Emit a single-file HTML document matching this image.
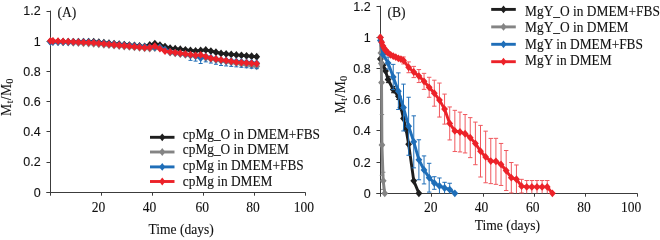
<!DOCTYPE html>
<html><head><meta charset="utf-8"><style>
html,body{margin:0;padding:0;background:#fff;width:660px;height:238px;overflow:hidden}
svg{display:block}
svg text{stroke:#111;stroke-width:0.1px}
</style></head><body>
<div style="will-change:transform;width:660px;height:238px"><svg width="660" height="238" viewBox="0 0 660 238">
<rect width="660" height="238" fill="#fff"/>
<path d="M50.50 10.60V195.70" stroke="#3c3c3c" stroke-width="1" fill="none"/>
<path d="M46.50 192.50H305.60" stroke="#3c3c3c" stroke-width="1" fill="none"/>
<path d="M46.50 192.50H50.50" stroke="#3c3c3c" stroke-width="1"/>
<text x="40.60" y="196.70" text-anchor="end" font-family="'Liberation Sans', sans-serif" font-size="12.5" fill="#111">0</text>
<path d="M46.50 162.50H50.50" stroke="#3c3c3c" stroke-width="1"/>
<text x="40.60" y="166.48" text-anchor="end" font-family="'Liberation Sans', sans-serif" font-size="12.5" fill="#111">0.2</text>
<path d="M46.50 131.50H50.50" stroke="#3c3c3c" stroke-width="1"/>
<text x="40.60" y="136.27" text-anchor="end" font-family="'Liberation Sans', sans-serif" font-size="12.5" fill="#111">0.4</text>
<path d="M46.50 101.50H50.50" stroke="#3c3c3c" stroke-width="1"/>
<text x="40.60" y="106.05" text-anchor="end" font-family="'Liberation Sans', sans-serif" font-size="12.5" fill="#111">0.6</text>
<path d="M46.50 71.50H50.50" stroke="#3c3c3c" stroke-width="1"/>
<text x="40.60" y="75.83" text-anchor="end" font-family="'Liberation Sans', sans-serif" font-size="12.5" fill="#111">0.8</text>
<path d="M46.50 41.50H50.50" stroke="#3c3c3c" stroke-width="1"/>
<text x="40.60" y="45.62" text-anchor="end" font-family="'Liberation Sans', sans-serif" font-size="12.5" fill="#111">1</text>
<path d="M46.50 11.50H50.50" stroke="#3c3c3c" stroke-width="1"/>
<text x="40.60" y="15.40" text-anchor="end" font-family="'Liberation Sans', sans-serif" font-size="12.5" fill="#111">1.2</text>
<path d="M101.50 192.50V195.70" stroke="#3c3c3c" stroke-width="1"/>
<text x="98.50" y="212.40" text-anchor="middle" font-family="'Liberation Serif', serif" font-size="13.56" fill="#111">20</text>
<path d="M152.50 192.50V195.70" stroke="#3c3c3c" stroke-width="1"/>
<text x="149.50" y="212.40" text-anchor="middle" font-family="'Liberation Serif', serif" font-size="13.56" fill="#111">40</text>
<path d="M203.50 192.50V195.70" stroke="#3c3c3c" stroke-width="1"/>
<text x="202.30" y="212.40" text-anchor="middle" font-family="'Liberation Serif', serif" font-size="13.56" fill="#111">60</text>
<path d="M254.50 192.50V195.70" stroke="#3c3c3c" stroke-width="1"/>
<text x="253.10" y="212.40" text-anchor="middle" font-family="'Liberation Serif', serif" font-size="13.56" fill="#111">80</text>
<path d="M305.50 192.50V195.70" stroke="#3c3c3c" stroke-width="1"/>
<text x="303.90" y="212.40" text-anchor="middle" font-family="'Liberation Serif', serif" font-size="13.56" fill="#111">100</text>
<text x="57.4" y="16.8" font-family="'Liberation Serif', serif" font-size="13.56" fill="#111">(A)</text>
<text x="181.2" y="233.7" text-anchor="middle" font-family="'Liberation Serif', serif" font-size="13.56" fill="#111">Time (days)</text>
<text transform="translate(11.2 97.0) rotate(-90)" text-anchor="middle" font-family="'Liberation Serif', serif" font-size="13.56" letter-spacing="0.5" fill="#111">M<tspan font-size="9.5" dy="2.2">t</tspan><tspan dy="-2.2">/M</tspan><tspan font-size="9.5" dy="2.2">0</tspan></text>
<path d="M50.40 41.32 L52.95 41.41 L58.04 41.59 L63.13 41.77 L68.23 41.77 L73.32 41.77 L78.42 41.77 L83.51 41.77 L88.61 41.77 L93.70 41.77 L98.79 42.24 L103.89 42.71 L108.98 43.17 L114.07 43.64 L119.17 44.11 L124.26 44.58 L129.36 45.05 L134.45 45.52 L139.54 45.99 L144.64 46.45 L149.73 45.02 L154.83 43.58 L159.92 45.09 L165.01 46.60 L170.11 48.12 L175.20 48.69 L180.30 49.26 L185.39 49.84 L190.49 50.41 L195.58 50.99 L200.67 50.46 L205.77 49.93 L210.86 51.09 L215.96 52.25 L221.05 53.40 L226.14 53.91 L231.24 54.41 L236.33 54.91 L241.43 55.37 L246.52 55.82 L251.61 56.27 L256.71 56.73" stroke="#1e1e1e" stroke-width="2.9" fill="none" stroke-linejoin="round"/>
<path d="M47.00 41.32L50.40 37.42L53.80 41.32L50.40 45.22Z" fill="#1e1e1e"/>
<path d="M49.55 41.41L52.95 37.51L56.35 41.41L52.95 45.31Z" fill="#1e1e1e"/>
<path d="M54.64 41.59L58.04 37.69L61.44 41.59L58.04 45.49Z" fill="#1e1e1e"/>
<path d="M59.73 41.77L63.13 37.87L66.53 41.77L63.13 45.67Z" fill="#1e1e1e"/>
<path d="M64.83 41.77L68.23 37.87L71.63 41.77L68.23 45.67Z" fill="#1e1e1e"/>
<path d="M69.92 41.77L73.32 37.87L76.72 41.77L73.32 45.67Z" fill="#1e1e1e"/>
<path d="M75.02 41.77L78.42 37.87L81.82 41.77L78.42 45.67Z" fill="#1e1e1e"/>
<path d="M80.11 41.77L83.51 37.87L86.91 41.77L83.51 45.67Z" fill="#1e1e1e"/>
<path d="M85.20 41.77L88.61 37.87L92.01 41.77L88.61 45.67Z" fill="#1e1e1e"/>
<path d="M90.30 41.77L93.70 37.87L97.10 41.77L93.70 45.67Z" fill="#1e1e1e"/>
<path d="M95.39 42.24L98.79 38.34L102.19 42.24L98.79 46.14Z" fill="#1e1e1e"/>
<path d="M100.49 42.71L103.89 38.81L107.29 42.71L103.89 46.61Z" fill="#1e1e1e"/>
<path d="M105.58 43.17L108.98 39.27L112.38 43.17L108.98 47.07Z" fill="#1e1e1e"/>
<path d="M110.67 43.64L114.07 39.74L117.47 43.64L114.07 47.54Z" fill="#1e1e1e"/>
<path d="M115.77 44.11L119.17 40.21L122.57 44.11L119.17 48.01Z" fill="#1e1e1e"/>
<path d="M120.86 44.58L124.26 40.68L127.66 44.58L124.26 48.48Z" fill="#1e1e1e"/>
<path d="M125.96 45.05L129.36 41.15L132.76 45.05L129.36 48.95Z" fill="#1e1e1e"/>
<path d="M131.05 45.52L134.45 41.62L137.85 45.52L134.45 49.42Z" fill="#1e1e1e"/>
<path d="M136.14 45.99L139.54 42.09L142.94 45.99L139.54 49.89Z" fill="#1e1e1e"/>
<path d="M141.24 46.45L144.64 42.55L148.04 46.45L144.64 50.35Z" fill="#1e1e1e"/>
<path d="M146.33 45.02L149.73 41.12L153.13 45.02L149.73 48.92Z" fill="#1e1e1e"/>
<path d="M151.43 43.58L154.83 39.68L158.23 43.58L154.83 47.48Z" fill="#1e1e1e"/>
<path d="M156.52 45.09L159.92 41.19L163.32 45.09L159.92 48.99Z" fill="#1e1e1e"/>
<path d="M161.61 46.60L165.01 42.70L168.41 46.60L165.01 50.50Z" fill="#1e1e1e"/>
<path d="M166.71 48.12L170.11 44.22L173.51 48.12L170.11 52.02Z" fill="#1e1e1e"/>
<path d="M171.80 48.69L175.20 44.79L178.60 48.69L175.20 52.59Z" fill="#1e1e1e"/>
<path d="M176.90 49.26L180.30 45.36L183.70 49.26L180.30 53.16Z" fill="#1e1e1e"/>
<path d="M181.99 49.84L185.39 45.94L188.79 49.84L185.39 53.74Z" fill="#1e1e1e"/>
<path d="M187.09 50.41L190.49 46.51L193.89 50.41L190.49 54.31Z" fill="#1e1e1e"/>
<path d="M192.18 50.99L195.58 47.09L198.98 50.99L195.58 54.89Z" fill="#1e1e1e"/>
<path d="M197.27 50.46L200.67 46.56L204.07 50.46L200.67 54.36Z" fill="#1e1e1e"/>
<path d="M202.37 49.93L205.77 46.03L209.17 49.93L205.77 53.83Z" fill="#1e1e1e"/>
<path d="M207.46 51.09L210.86 47.19L214.26 51.09L210.86 54.99Z" fill="#1e1e1e"/>
<path d="M212.56 52.25L215.96 48.35L219.36 52.25L215.96 56.15Z" fill="#1e1e1e"/>
<path d="M217.65 53.40L221.05 49.50L224.45 53.40L221.05 57.30Z" fill="#1e1e1e"/>
<path d="M222.74 53.91L226.14 50.01L229.54 53.91L226.14 57.81Z" fill="#1e1e1e"/>
<path d="M227.84 54.41L231.24 50.51L234.64 54.41L231.24 58.31Z" fill="#1e1e1e"/>
<path d="M232.93 54.91L236.33 51.01L239.73 54.91L236.33 58.81Z" fill="#1e1e1e"/>
<path d="M238.03 55.37L241.43 51.47L244.83 55.37L241.43 59.27Z" fill="#1e1e1e"/>
<path d="M243.12 55.82L246.52 51.92L249.92 55.82L246.52 59.72Z" fill="#1e1e1e"/>
<path d="M248.21 56.27L251.61 52.37L255.01 56.27L251.61 60.17Z" fill="#1e1e1e"/>
<path d="M253.31 56.73L256.71 52.83L260.11 56.73L256.71 60.63Z" fill="#1e1e1e"/>
<path d="M50.40 41.62 L52.95 41.75 L58.04 42.02 L63.13 42.29 L68.23 42.55 L73.32 42.82 L78.42 43.09 L83.51 43.35 L88.61 43.62 L93.70 43.89 L98.79 44.32 L103.89 44.76 L108.98 45.20 L114.07 45.64 L119.17 46.08 L124.26 46.52 L129.36 46.96 L134.45 47.40 L139.54 47.84 L144.64 48.28 L149.73 48.72 L154.83 48.19 L159.92 47.66 L165.01 50.16 L170.11 52.65 L175.20 53.40 L180.30 54.16 L185.39 54.91 L190.49 55.67 L195.58 56.42 L200.67 57.18 L205.77 58.12 L210.86 59.07 L215.96 60.01 L221.05 60.96 L226.14 61.71 L231.24 62.47 L236.33 63.22 L241.43 63.98 L246.52 64.73 L251.61 65.49 L256.71 66.25" stroke="#848484" stroke-width="2.9" fill="none" stroke-linejoin="round"/>
<path d="M47.00 41.62L50.40 37.72L53.80 41.62L50.40 45.52Z" fill="#848484"/>
<path d="M49.55 41.75L52.95 37.85L56.35 41.75L52.95 45.65Z" fill="#848484"/>
<path d="M54.64 42.02L58.04 38.12L61.44 42.02L58.04 45.92Z" fill="#848484"/>
<path d="M59.73 42.29L63.13 38.39L66.53 42.29L63.13 46.19Z" fill="#848484"/>
<path d="M64.83 42.55L68.23 38.65L71.63 42.55L68.23 46.45Z" fill="#848484"/>
<path d="M69.92 42.82L73.32 38.92L76.72 42.82L73.32 46.72Z" fill="#848484"/>
<path d="M75.02 43.09L78.42 39.19L81.82 43.09L78.42 46.99Z" fill="#848484"/>
<path d="M80.11 43.35L83.51 39.45L86.91 43.35L83.51 47.25Z" fill="#848484"/>
<path d="M85.20 43.62L88.61 39.72L92.01 43.62L88.61 47.52Z" fill="#848484"/>
<path d="M90.30 43.89L93.70 39.99L97.10 43.89L93.70 47.79Z" fill="#848484"/>
<path d="M95.39 44.32L98.79 40.42L102.19 44.32L98.79 48.22Z" fill="#848484"/>
<path d="M100.49 44.76L103.89 40.86L107.29 44.76L103.89 48.66Z" fill="#848484"/>
<path d="M105.58 45.20L108.98 41.30L112.38 45.20L108.98 49.10Z" fill="#848484"/>
<path d="M110.67 45.64L114.07 41.74L117.47 45.64L114.07 49.54Z" fill="#848484"/>
<path d="M115.77 46.08L119.17 42.18L122.57 46.08L119.17 49.98Z" fill="#848484"/>
<path d="M120.86 46.52L124.26 42.62L127.66 46.52L124.26 50.42Z" fill="#848484"/>
<path d="M125.96 46.96L129.36 43.06L132.76 46.96L129.36 50.86Z" fill="#848484"/>
<path d="M131.05 47.40L134.45 43.50L137.85 47.40L134.45 51.30Z" fill="#848484"/>
<path d="M136.14 47.84L139.54 43.94L142.94 47.84L139.54 51.74Z" fill="#848484"/>
<path d="M141.24 48.28L144.64 44.38L148.04 48.28L144.64 52.18Z" fill="#848484"/>
<path d="M146.33 48.72L149.73 44.82L153.13 48.72L149.73 52.62Z" fill="#848484"/>
<path d="M151.43 48.19L154.83 44.29L158.23 48.19L154.83 52.09Z" fill="#848484"/>
<path d="M156.52 47.66L159.92 43.76L163.32 47.66L159.92 51.56Z" fill="#848484"/>
<path d="M161.61 50.16L165.01 46.26L168.41 50.16L165.01 54.06Z" fill="#848484"/>
<path d="M166.71 52.65L170.11 48.75L173.51 52.65L170.11 56.55Z" fill="#848484"/>
<path d="M171.80 53.40L175.20 49.50L178.60 53.40L175.20 57.30Z" fill="#848484"/>
<path d="M176.90 54.16L180.30 50.26L183.70 54.16L180.30 58.06Z" fill="#848484"/>
<path d="M181.99 54.91L185.39 51.01L188.79 54.91L185.39 58.81Z" fill="#848484"/>
<path d="M187.09 55.67L190.49 51.77L193.89 55.67L190.49 59.57Z" fill="#848484"/>
<path d="M192.18 56.42L195.58 52.52L198.98 56.42L195.58 60.32Z" fill="#848484"/>
<path d="M197.27 57.18L200.67 53.28L204.07 57.18L200.67 61.08Z" fill="#848484"/>
<path d="M202.37 58.12L205.77 54.22L209.17 58.12L205.77 62.02Z" fill="#848484"/>
<path d="M207.46 59.07L210.86 55.17L214.26 59.07L210.86 62.97Z" fill="#848484"/>
<path d="M212.56 60.01L215.96 56.11L219.36 60.01L215.96 63.91Z" fill="#848484"/>
<path d="M217.65 60.96L221.05 57.06L224.45 60.96L221.05 64.86Z" fill="#848484"/>
<path d="M222.74 61.71L226.14 57.81L229.54 61.71L226.14 65.61Z" fill="#848484"/>
<path d="M227.84 62.47L231.24 58.57L234.64 62.47L231.24 66.37Z" fill="#848484"/>
<path d="M232.93 63.22L236.33 59.32L239.73 63.22L236.33 67.12Z" fill="#848484"/>
<path d="M238.03 63.98L241.43 60.08L244.83 63.98L241.43 67.88Z" fill="#848484"/>
<path d="M243.12 64.73L246.52 60.83L249.92 64.73L246.52 68.63Z" fill="#848484"/>
<path d="M248.21 65.49L251.61 61.59L255.01 65.49L251.61 69.39Z" fill="#848484"/>
<path d="M253.31 66.25L256.71 62.35L260.11 66.25L256.71 70.15Z" fill="#848484"/>
<path d="M190.49 54.91V60.35M188.49 60.35H192.49" stroke="#1f6eb8" stroke-width="1.0" fill="none"/>
<path d="M195.58 55.67V61.11M193.58 61.11H197.58" stroke="#1f6eb8" stroke-width="1.0" fill="none"/>
<path d="M200.67 58.09V63.53M198.67 63.53H202.67" stroke="#1f6eb8" stroke-width="1.0" fill="none"/>
<path d="M205.77 56.42V61.86M203.77 61.86H207.77" stroke="#1f6eb8" stroke-width="1.0" fill="none"/>
<path d="M210.86 57.63V63.07M208.86 63.07H212.86" stroke="#1f6eb8" stroke-width="1.0" fill="none"/>
<path d="M215.96 58.84V64.28M213.96 64.28H217.96" stroke="#1f6eb8" stroke-width="1.0" fill="none"/>
<path d="M221.05 60.05V65.49M219.05 65.49H223.05" stroke="#1f6eb8" stroke-width="1.0" fill="none"/>
<path d="M226.14 60.50V65.94M224.14 65.94H228.14" stroke="#1f6eb8" stroke-width="1.0" fill="none"/>
<path d="M231.24 60.96V66.40M229.24 66.40H233.24" stroke="#1f6eb8" stroke-width="1.0" fill="none"/>
<path d="M236.33 61.41V66.85M234.33 66.85H238.33" stroke="#1f6eb8" stroke-width="1.0" fill="none"/>
<path d="M241.43 61.86V67.30M239.43 67.30H243.43" stroke="#1f6eb8" stroke-width="1.0" fill="none"/>
<path d="M246.52 62.32V67.76M244.52 67.76H248.52" stroke="#1f6eb8" stroke-width="1.0" fill="none"/>
<path d="M251.61 62.77V68.21M249.61 68.21H253.61" stroke="#1f6eb8" stroke-width="1.0" fill="none"/>
<path d="M256.71 63.22V68.66M254.71 68.66H258.71" stroke="#1f6eb8" stroke-width="1.0" fill="none"/>
<path d="M50.40 42.07 L52.95 42.06 L58.04 42.04 L63.13 42.02 L68.23 42.00 L73.32 41.98 L78.42 41.96 L83.51 41.94 L88.61 41.92 L93.70 42.37 L98.79 42.83 L103.89 43.28 L108.98 43.73 L114.07 44.19 L119.17 44.64 L124.26 45.09 L129.36 45.55 L134.45 45.96 L139.54 46.38 L144.64 46.79 L149.73 47.21 L154.83 47.28 L159.92 47.36 L165.01 49.63 L170.11 51.89 L175.20 52.65 L180.30 53.40 L185.39 54.16 L190.49 54.91 L195.58 55.67 L200.67 58.09 L205.77 56.42 L210.86 57.63 L215.96 58.84 L221.05 60.05 L226.14 60.50 L231.24 60.96 L236.33 61.41 L241.43 61.86 L246.52 62.32 L251.61 62.77 L256.71 63.22" stroke="#1f6eb8" stroke-width="2.9" fill="none" stroke-linejoin="round"/>
<path d="M47.00 42.07L50.40 38.17L53.80 42.07L50.40 45.97Z" fill="#1f6eb8"/>
<path d="M49.55 42.06L52.95 38.16L56.35 42.06L52.95 45.96Z" fill="#1f6eb8"/>
<path d="M54.64 42.04L58.04 38.14L61.44 42.04L58.04 45.94Z" fill="#1f6eb8"/>
<path d="M59.73 42.02L63.13 38.12L66.53 42.02L63.13 45.92Z" fill="#1f6eb8"/>
<path d="M64.83 42.00L68.23 38.10L71.63 42.00L68.23 45.90Z" fill="#1f6eb8"/>
<path d="M69.92 41.98L73.32 38.08L76.72 41.98L73.32 45.88Z" fill="#1f6eb8"/>
<path d="M75.02 41.96L78.42 38.06L81.82 41.96L78.42 45.86Z" fill="#1f6eb8"/>
<path d="M80.11 41.94L83.51 38.04L86.91 41.94L83.51 45.84Z" fill="#1f6eb8"/>
<path d="M85.20 41.92L88.61 38.02L92.01 41.92L88.61 45.82Z" fill="#1f6eb8"/>
<path d="M90.30 42.37L93.70 38.47L97.10 42.37L93.70 46.27Z" fill="#1f6eb8"/>
<path d="M95.39 42.83L98.79 38.93L102.19 42.83L98.79 46.73Z" fill="#1f6eb8"/>
<path d="M100.49 43.28L103.89 39.38L107.29 43.28L103.89 47.18Z" fill="#1f6eb8"/>
<path d="M105.58 43.73L108.98 39.83L112.38 43.73L108.98 47.63Z" fill="#1f6eb8"/>
<path d="M110.67 44.19L114.07 40.29L117.47 44.19L114.07 48.09Z" fill="#1f6eb8"/>
<path d="M115.77 44.64L119.17 40.74L122.57 44.64L119.17 48.54Z" fill="#1f6eb8"/>
<path d="M120.86 45.09L124.26 41.19L127.66 45.09L124.26 48.99Z" fill="#1f6eb8"/>
<path d="M125.96 45.55L129.36 41.65L132.76 45.55L129.36 49.45Z" fill="#1f6eb8"/>
<path d="M131.05 45.96L134.45 42.06L137.85 45.96L134.45 49.86Z" fill="#1f6eb8"/>
<path d="M136.14 46.38L139.54 42.48L142.94 46.38L139.54 50.28Z" fill="#1f6eb8"/>
<path d="M141.24 46.79L144.64 42.89L148.04 46.79L144.64 50.69Z" fill="#1f6eb8"/>
<path d="M146.33 47.21L149.73 43.31L153.13 47.21L149.73 51.11Z" fill="#1f6eb8"/>
<path d="M151.43 47.28L154.83 43.38L158.23 47.28L154.83 51.18Z" fill="#1f6eb8"/>
<path d="M156.52 47.36L159.92 43.46L163.32 47.36L159.92 51.26Z" fill="#1f6eb8"/>
<path d="M161.61 49.63L165.01 45.73L168.41 49.63L165.01 53.53Z" fill="#1f6eb8"/>
<path d="M166.71 51.89L170.11 47.99L173.51 51.89L170.11 55.79Z" fill="#1f6eb8"/>
<path d="M171.80 52.65L175.20 48.75L178.60 52.65L175.20 56.55Z" fill="#1f6eb8"/>
<path d="M176.90 53.40L180.30 49.50L183.70 53.40L180.30 57.30Z" fill="#1f6eb8"/>
<path d="M181.99 54.16L185.39 50.26L188.79 54.16L185.39 58.06Z" fill="#1f6eb8"/>
<path d="M187.09 54.91L190.49 51.01L193.89 54.91L190.49 58.81Z" fill="#1f6eb8"/>
<path d="M192.18 55.67L195.58 51.77L198.98 55.67L195.58 59.57Z" fill="#1f6eb8"/>
<path d="M197.27 58.09L200.67 54.19L204.07 58.09L200.67 61.99Z" fill="#1f6eb8"/>
<path d="M202.37 56.42L205.77 52.52L209.17 56.42L205.77 60.32Z" fill="#1f6eb8"/>
<path d="M207.46 57.63L210.86 53.73L214.26 57.63L210.86 61.53Z" fill="#1f6eb8"/>
<path d="M212.56 58.84L215.96 54.94L219.36 58.84L215.96 62.74Z" fill="#1f6eb8"/>
<path d="M217.65 60.05L221.05 56.15L224.45 60.05L221.05 63.95Z" fill="#1f6eb8"/>
<path d="M222.74 60.50L226.14 56.60L229.54 60.50L226.14 64.40Z" fill="#1f6eb8"/>
<path d="M227.84 60.96L231.24 57.06L234.64 60.96L231.24 64.86Z" fill="#1f6eb8"/>
<path d="M232.93 61.41L236.33 57.51L239.73 61.41L236.33 65.31Z" fill="#1f6eb8"/>
<path d="M238.03 61.86L241.43 57.96L244.83 61.86L241.43 65.76Z" fill="#1f6eb8"/>
<path d="M243.12 62.32L246.52 58.42L249.92 62.32L246.52 66.22Z" fill="#1f6eb8"/>
<path d="M248.21 62.77L251.61 58.87L255.01 62.77L251.61 66.67Z" fill="#1f6eb8"/>
<path d="M253.31 63.22L256.71 59.32L260.11 63.22L256.71 67.12Z" fill="#1f6eb8"/>
<path d="M50.40 40.86 L52.95 40.98 L58.04 41.21 L63.13 41.44 L68.23 41.67 L73.32 41.90 L78.42 42.13 L83.51 42.37 L88.61 42.60 L93.70 42.83 L98.79 43.31 L103.89 43.79 L108.98 44.28 L114.07 44.76 L119.17 45.24 L124.26 45.73 L129.36 46.21 L134.45 46.70 L139.54 47.18 L144.64 47.66 L149.73 47.51 L154.83 46.15 L159.92 48.64 L165.01 51.14 L170.11 51.84 L175.20 52.55 L180.30 53.25 L185.39 53.96 L190.49 54.66 L195.58 55.37 L200.67 54.91 L205.77 56.58 L210.86 58.24 L215.96 59.02 L221.05 59.81 L226.14 60.59 L231.24 61.38 L236.33 62.17 L241.43 62.54 L246.52 62.92 L251.61 63.30 L256.71 63.68" stroke="#ec2229" stroke-width="2.9" fill="none" stroke-linejoin="round"/>
<path d="M47.00 40.86L50.40 36.96L53.80 40.86L50.40 44.76Z" fill="#ec2229"/>
<path d="M49.55 40.98L52.95 37.08L56.35 40.98L52.95 44.88Z" fill="#ec2229"/>
<path d="M54.64 41.21L58.04 37.31L61.44 41.21L58.04 45.11Z" fill="#ec2229"/>
<path d="M59.73 41.44L63.13 37.54L66.53 41.44L63.13 45.34Z" fill="#ec2229"/>
<path d="M64.83 41.67L68.23 37.77L71.63 41.67L68.23 45.57Z" fill="#ec2229"/>
<path d="M69.92 41.90L73.32 38.00L76.72 41.90L73.32 45.80Z" fill="#ec2229"/>
<path d="M75.02 42.13L78.42 38.23L81.82 42.13L78.42 46.03Z" fill="#ec2229"/>
<path d="M80.11 42.37L83.51 38.47L86.91 42.37L83.51 46.27Z" fill="#ec2229"/>
<path d="M85.20 42.60L88.61 38.70L92.01 42.60L88.61 46.50Z" fill="#ec2229"/>
<path d="M90.30 42.83L93.70 38.93L97.10 42.83L93.70 46.73Z" fill="#ec2229"/>
<path d="M95.39 43.31L98.79 39.41L102.19 43.31L98.79 47.21Z" fill="#ec2229"/>
<path d="M100.49 43.79L103.89 39.89L107.29 43.79L103.89 47.69Z" fill="#ec2229"/>
<path d="M105.58 44.28L108.98 40.38L112.38 44.28L108.98 48.18Z" fill="#ec2229"/>
<path d="M110.67 44.76L114.07 40.86L117.47 44.76L114.07 48.66Z" fill="#ec2229"/>
<path d="M115.77 45.24L119.17 41.34L122.57 45.24L119.17 49.14Z" fill="#ec2229"/>
<path d="M120.86 45.73L124.26 41.83L127.66 45.73L124.26 49.63Z" fill="#ec2229"/>
<path d="M125.96 46.21L129.36 42.31L132.76 46.21L129.36 50.11Z" fill="#ec2229"/>
<path d="M131.05 46.70L134.45 42.80L137.85 46.70L134.45 50.60Z" fill="#ec2229"/>
<path d="M136.14 47.18L139.54 43.28L142.94 47.18L139.54 51.08Z" fill="#ec2229"/>
<path d="M141.24 47.66L144.64 43.76L148.04 47.66L144.64 51.56Z" fill="#ec2229"/>
<path d="M146.33 47.51L149.73 43.61L153.13 47.51L149.73 51.41Z" fill="#ec2229"/>
<path d="M151.43 46.15L154.83 42.25L158.23 46.15L154.83 50.05Z" fill="#ec2229"/>
<path d="M156.52 48.64L159.92 44.74L163.32 48.64L159.92 52.54Z" fill="#ec2229"/>
<path d="M161.61 51.14L165.01 47.24L168.41 51.14L165.01 55.04Z" fill="#ec2229"/>
<path d="M166.71 51.84L170.11 47.94L173.51 51.84L170.11 55.74Z" fill="#ec2229"/>
<path d="M171.80 52.55L175.20 48.65L178.60 52.55L175.20 56.45Z" fill="#ec2229"/>
<path d="M176.90 53.25L180.30 49.35L183.70 53.25L180.30 57.15Z" fill="#ec2229"/>
<path d="M181.99 53.96L185.39 50.06L188.79 53.96L185.39 57.86Z" fill="#ec2229"/>
<path d="M187.09 54.66L190.49 50.76L193.89 54.66L190.49 58.56Z" fill="#ec2229"/>
<path d="M192.18 55.37L195.58 51.47L198.98 55.37L195.58 59.27Z" fill="#ec2229"/>
<path d="M197.27 54.91L200.67 51.01L204.07 54.91L200.67 58.81Z" fill="#ec2229"/>
<path d="M202.37 56.58L205.77 52.68L209.17 56.58L205.77 60.48Z" fill="#ec2229"/>
<path d="M207.46 58.24L210.86 54.34L214.26 58.24L210.86 62.14Z" fill="#ec2229"/>
<path d="M212.56 59.02L215.96 55.12L219.36 59.02L215.96 62.92Z" fill="#ec2229"/>
<path d="M217.65 59.81L221.05 55.91L224.45 59.81L221.05 63.71Z" fill="#ec2229"/>
<path d="M222.74 60.59L226.14 56.69L229.54 60.59L226.14 64.49Z" fill="#ec2229"/>
<path d="M227.84 61.38L231.24 57.48L234.64 61.38L231.24 65.28Z" fill="#ec2229"/>
<path d="M232.93 62.17L236.33 58.27L239.73 62.17L236.33 66.07Z" fill="#ec2229"/>
<path d="M238.03 62.54L241.43 58.64L244.83 62.54L241.43 66.44Z" fill="#ec2229"/>
<path d="M243.12 62.92L246.52 59.02L249.92 62.92L246.52 66.82Z" fill="#ec2229"/>
<path d="M248.21 63.30L251.61 59.40L255.01 63.30L251.61 67.20Z" fill="#ec2229"/>
<path d="M253.31 63.68L256.71 59.78L260.11 63.68L256.71 67.58Z" fill="#ec2229"/>
<path d="M150.00 137.30H174.50" stroke="#1e1e1e" stroke-width="2.9"/>
<path d="M159.15 137.30L162.25 133.40L165.35 137.30L162.25 141.20Z" fill="#1e1e1e"/>
<text transform="translate(182.80 138.50) scale(0.985 1)" font-family="'Liberation Serif', serif" font-size="13.56" fill="#111">cpMg_O in DMEM+FBS</text>
<path d="M150.00 152.00H174.50" stroke="#848484" stroke-width="2.9"/>
<path d="M159.15 152.00L162.25 148.10L165.35 152.00L162.25 155.90Z" fill="#848484"/>
<text transform="translate(182.80 154.27) scale(0.985 1)" font-family="'Liberation Serif', serif" font-size="13.56" fill="#111">cpMg_O in DMEM</text>
<path d="M150.00 166.90H174.50" stroke="#1f6eb8" stroke-width="2.9"/>
<path d="M159.15 166.90L162.25 163.00L165.35 166.90L162.25 170.80Z" fill="#1f6eb8"/>
<text transform="translate(182.80 170.04) scale(0.985 1)" font-family="'Liberation Serif', serif" font-size="13.56" fill="#111">cpMg in DMEM+FBS</text>
<path d="M150.00 181.50H174.50" stroke="#ec2229" stroke-width="2.9"/>
<path d="M159.15 181.50L162.25 177.60L165.35 181.50L162.25 185.40Z" fill="#ec2229"/>
<text transform="translate(182.80 185.81) scale(0.985 1)" font-family="'Liberation Serif', serif" font-size="13.56" fill="#111">cpMg in DMEM</text>
<path d="M380.50 5.70V196.70" stroke="#3c3c3c" stroke-width="1" fill="none"/>
<path d="M376.50 193.50H637.60" stroke="#3c3c3c" stroke-width="1" fill="none"/>
<path d="M376.50 193.50H380.50" stroke="#3c3c3c" stroke-width="1"/>
<text x="370.70" y="197.70" text-anchor="end" font-family="'Liberation Sans', sans-serif" font-size="12.5" fill="#111">0</text>
<path d="M376.50 162.50H380.50" stroke="#3c3c3c" stroke-width="1"/>
<text x="370.70" y="166.52" text-anchor="end" font-family="'Liberation Sans', sans-serif" font-size="12.5" fill="#111">0.2</text>
<path d="M376.50 130.50H380.50" stroke="#3c3c3c" stroke-width="1"/>
<text x="370.70" y="135.33" text-anchor="end" font-family="'Liberation Sans', sans-serif" font-size="12.5" fill="#111">0.4</text>
<path d="M376.50 99.50H380.50" stroke="#3c3c3c" stroke-width="1"/>
<text x="370.70" y="104.15" text-anchor="end" font-family="'Liberation Sans', sans-serif" font-size="12.5" fill="#111">0.6</text>
<path d="M376.50 68.50H380.50" stroke="#3c3c3c" stroke-width="1"/>
<text x="370.70" y="72.97" text-anchor="end" font-family="'Liberation Sans', sans-serif" font-size="12.5" fill="#111">0.8</text>
<path d="M376.50 37.50H380.50" stroke="#3c3c3c" stroke-width="1"/>
<text x="370.70" y="41.78" text-anchor="end" font-family="'Liberation Sans', sans-serif" font-size="12.5" fill="#111">1</text>
<path d="M376.50 6.50H380.50" stroke="#3c3c3c" stroke-width="1"/>
<text x="370.70" y="10.60" text-anchor="end" font-family="'Liberation Sans', sans-serif" font-size="12.5" fill="#111">1.2</text>
<path d="M431.50 193.50V196.70" stroke="#3c3c3c" stroke-width="1"/>
<text x="430.70" y="211.60" text-anchor="middle" font-family="'Liberation Serif', serif" font-size="13.56" fill="#111">20</text>
<path d="M483.50 193.50V196.70" stroke="#3c3c3c" stroke-width="1"/>
<text x="481.60" y="211.60" text-anchor="middle" font-family="'Liberation Serif', serif" font-size="13.56" fill="#111">40</text>
<path d="M534.50 193.50V196.70" stroke="#3c3c3c" stroke-width="1"/>
<text x="532.70" y="211.60" text-anchor="middle" font-family="'Liberation Serif', serif" font-size="13.56" fill="#111">60</text>
<path d="M585.50 193.50V196.70" stroke="#3c3c3c" stroke-width="1"/>
<text x="583.90" y="211.60" text-anchor="middle" font-family="'Liberation Serif', serif" font-size="13.56" fill="#111">80</text>
<path d="M637.50 193.50V196.70" stroke="#3c3c3c" stroke-width="1"/>
<text x="631.20" y="211.60" text-anchor="middle" font-family="'Liberation Serif', serif" font-size="13.56" fill="#111">100</text>
<text x="387.4" y="16.5" font-family="'Liberation Serif', serif" font-size="13.56" fill="#111">(B)</text>
<text x="507.4" y="229.9" text-anchor="middle" font-family="'Liberation Serif', serif" font-size="13.56" fill="#111">Time (days)</text>
<text transform="translate(345.2 94.3) rotate(-90)" text-anchor="middle" font-family="'Liberation Serif', serif" font-size="13.56" letter-spacing="0.5" fill="#111">M<tspan font-size="9.5" dy="2.2">t</tspan><tspan dy="-2.2">/M</tspan><tspan font-size="9.5" dy="2.2">0</tspan></text>
<path d="M388.10 76.36V82.60M385.90 76.36H390.30M385.90 82.60H390.30" stroke="#1e1e1e" stroke-width="1.0" fill="none"/>
<path d="M393.23 86.50V92.73M391.03 86.50H395.43M391.03 92.73H395.43" stroke="#1e1e1e" stroke-width="1.0" fill="none"/>
<path d="M398.37 93.20V99.44M396.17 93.20H400.57M396.17 99.44H400.57" stroke="#1e1e1e" stroke-width="1.0" fill="none"/>
<path d="M380.40 58.90 L382.97 65.14 L385.53 70.91 L388.10 79.48 L393.23 89.62 L398.37 96.32 L400.94 107.55 L403.50 118.46 L406.07 129.37 L408.64 144.19 L413.77 180.83 L418.90 193.30" stroke="#1e1e1e" stroke-width="2.9" fill="none" stroke-linejoin="round"/>
<path d="M377.00 58.90L380.40 55.00L383.80 58.90L380.40 62.80Z" fill="#1e1e1e"/>
<path d="M379.57 65.14L382.97 61.24L386.37 65.14L382.97 69.04Z" fill="#1e1e1e"/>
<path d="M382.13 70.91L385.53 67.01L388.93 70.91L385.53 74.81Z" fill="#1e1e1e"/>
<path d="M384.70 79.48L388.10 75.58L391.50 79.48L388.10 83.38Z" fill="#1e1e1e"/>
<path d="M389.83 89.62L393.23 85.72L396.63 89.62L393.23 93.52Z" fill="#1e1e1e"/>
<path d="M394.97 96.32L398.37 92.42L401.77 96.32L398.37 100.22Z" fill="#1e1e1e"/>
<path d="M397.54 107.55L400.94 103.65L404.34 107.55L400.94 111.45Z" fill="#1e1e1e"/>
<path d="M400.10 118.46L403.50 114.56L406.90 118.46L403.50 122.36Z" fill="#1e1e1e"/>
<path d="M402.67 129.37L406.07 125.47L409.47 129.37L406.07 133.27Z" fill="#1e1e1e"/>
<path d="M405.24 144.19L408.64 140.29L412.04 144.19L408.64 148.09Z" fill="#1e1e1e"/>
<path d="M410.37 180.83L413.77 176.93L417.17 180.83L413.77 184.73Z" fill="#1e1e1e"/>
<path d="M415.50 193.30L418.90 189.40L422.30 193.30L418.90 197.20Z" fill="#1e1e1e"/>
<path d="M381.94 114.56V175.37M379.74 114.56H384.14M379.74 175.37H384.14" stroke="#848484" stroke-width="1.0" fill="none"/>
<path d="M383.22 172.25V189.40M381.02 172.25H385.42M381.02 189.40H385.42" stroke="#848484" stroke-width="1.0" fill="none"/>
<path d="M380.40 37.38 L380.91 52.97 L381.30 63.42 L381.56 82.60 L381.94 144.97 L383.22 180.83 L384.76 193.30" stroke="#848484" stroke-width="2.9" fill="none" stroke-linejoin="round"/>
<path d="M377.00 37.38L380.40 33.48L383.80 37.38L380.40 41.28Z" fill="#848484"/>
<path d="M377.51 52.97L380.91 49.07L384.31 52.97L380.91 56.87Z" fill="#848484"/>
<path d="M377.90 63.42L381.30 59.52L384.70 63.42L381.30 67.32Z" fill="#848484"/>
<path d="M378.16 82.60L381.56 78.70L384.96 82.60L381.56 86.50Z" fill="#848484"/>
<path d="M378.54 144.97L381.94 141.07L385.34 144.97L381.94 148.87Z" fill="#848484"/>
<path d="M379.82 180.83L383.22 176.93L386.62 180.83L383.22 184.73Z" fill="#848484"/>
<path d="M381.36 193.30L384.76 189.40L388.16 193.30L384.76 197.20Z" fill="#848484"/>
<path d="M388.10 57.11V69.11M385.90 57.11H390.30M385.90 69.11H390.30" stroke="#1f6eb8" stroke-width="1.0" fill="none"/>
<path d="M393.23 64.38V89.59M391.03 64.38H395.43M391.03 89.59H395.43" stroke="#1f6eb8" stroke-width="1.0" fill="none"/>
<path d="M398.37 72.87V109.48M396.17 72.87H400.57M396.17 109.48H400.57" stroke="#1f6eb8" stroke-width="1.0" fill="none"/>
<path d="M403.50 84.14V130.95M401.30 84.14H405.70M401.30 130.95H405.70" stroke="#1f6eb8" stroke-width="1.0" fill="none"/>
<path d="M408.64 97.25V155.26M406.44 97.25H410.84M406.44 155.26H410.84" stroke="#1f6eb8" stroke-width="1.0" fill="none"/>
<path d="M413.77 115.84V167.85M411.57 115.84H415.97M411.57 167.85H415.97" stroke="#1f6eb8" stroke-width="1.0" fill="none"/>
<path d="M418.90 139.78V179.78M416.70 139.78H421.10M416.70 179.78H421.10" stroke="#1f6eb8" stroke-width="1.0" fill="none"/>
<path d="M424.04 155.91V183.91M421.84 155.91H426.24M421.84 183.91H426.24" stroke="#1f6eb8" stroke-width="1.0" fill="none"/>
<path d="M429.17 163.31V192.11M426.97 163.31H431.37M426.97 192.11H431.37" stroke="#1f6eb8" stroke-width="1.0" fill="none"/>
<path d="M434.31 176.71V189.31M432.11 176.71H436.51M432.11 189.31H436.51" stroke="#1f6eb8" stroke-width="1.0" fill="none"/>
<path d="M439.44 177.97V193.30M437.24 177.97H441.64" stroke="#1f6eb8" stroke-width="1.0" fill="none"/>
<path d="M444.57 182.30V193.30M442.38 182.30H446.77" stroke="#1f6eb8" stroke-width="1.0" fill="none"/>
<path d="M449.71 183.26V193.30M447.51 183.26H451.91" stroke="#1f6eb8" stroke-width="1.0" fill="none"/>
<path d="M380.40 40.50 L382.97 54.53 L388.10 63.11 L393.23 76.99 L398.37 91.17 L403.50 107.55 L408.64 126.26 L413.77 141.85 L418.90 159.78 L424.04 169.91 L429.17 177.71 L434.31 183.01 L439.44 185.97 L444.57 188.00 L449.71 189.56 L454.84 193.30" stroke="#1f6eb8" stroke-width="2.9" fill="none" stroke-linejoin="round"/>
<path d="M377.00 40.50L380.40 36.60L383.80 40.50L380.40 44.40Z" fill="#1f6eb8"/>
<path d="M379.57 54.53L382.97 50.63L386.37 54.53L382.97 58.43Z" fill="#1f6eb8"/>
<path d="M384.70 63.11L388.10 59.21L391.50 63.11L388.10 67.01Z" fill="#1f6eb8"/>
<path d="M389.83 76.99L393.23 73.09L396.63 76.99L393.23 80.89Z" fill="#1f6eb8"/>
<path d="M394.97 91.17L398.37 87.27L401.77 91.17L398.37 95.07Z" fill="#1f6eb8"/>
<path d="M400.10 107.55L403.50 103.65L406.90 107.55L403.50 111.45Z" fill="#1f6eb8"/>
<path d="M405.24 126.26L408.64 122.36L412.04 126.26L408.64 130.16Z" fill="#1f6eb8"/>
<path d="M410.37 141.85L413.77 137.95L417.17 141.85L413.77 145.75Z" fill="#1f6eb8"/>
<path d="M415.50 159.78L418.90 155.88L422.30 159.78L418.90 163.68Z" fill="#1f6eb8"/>
<path d="M420.64 169.91L424.04 166.01L427.44 169.91L424.04 173.81Z" fill="#1f6eb8"/>
<path d="M425.77 177.71L429.17 173.81L432.57 177.71L429.17 181.61Z" fill="#1f6eb8"/>
<path d="M430.91 183.01L434.31 179.11L437.71 183.01L434.31 186.91Z" fill="#1f6eb8"/>
<path d="M436.04 185.97L439.44 182.07L442.84 185.97L439.44 189.87Z" fill="#1f6eb8"/>
<path d="M441.18 188.00L444.57 184.10L447.97 188.00L444.57 191.90Z" fill="#1f6eb8"/>
<path d="M446.31 189.56L449.71 185.66L453.11 189.56L449.71 193.46Z" fill="#1f6eb8"/>
<path d="M451.44 193.30L454.84 189.40L458.24 193.30L454.84 197.20Z" fill="#1f6eb8"/>
<path d="M403.50 56.96V63.96M401.30 56.96H405.70M401.30 63.96H405.70" stroke="#f0585e" stroke-width="1.0" fill="none"/>
<path d="M408.64 61.92V72.72M406.44 61.92H410.84M406.44 72.72H410.84" stroke="#f0585e" stroke-width="1.0" fill="none"/>
<path d="M413.77 66.40V77.60M411.57 66.40H415.97M411.57 77.60H415.97" stroke="#f0585e" stroke-width="1.0" fill="none"/>
<path d="M418.90 69.55V82.55M416.70 69.55H421.10M416.70 82.55H421.10" stroke="#f0585e" stroke-width="1.0" fill="none"/>
<path d="M424.04 73.35V89.35M421.84 73.35H426.24M421.84 89.35H426.24" stroke="#f0585e" stroke-width="1.0" fill="none"/>
<path d="M429.17 77.28V97.28M426.97 77.28H431.37M426.97 97.28H431.37" stroke="#f0585e" stroke-width="1.0" fill="none"/>
<path d="M434.31 80.20V106.20M432.11 80.20H436.51M432.11 106.20H436.51" stroke="#f0585e" stroke-width="1.0" fill="none"/>
<path d="M439.44 83.06V117.06M437.24 83.06H441.64M437.24 117.06H441.64" stroke="#f0585e" stroke-width="1.0" fill="none"/>
<path d="M444.57 94.10V124.11M442.38 94.10H446.77M442.38 124.11H446.77" stroke="#f0585e" stroke-width="1.0" fill="none"/>
<path d="M449.71 106.95V139.95M447.51 106.95H451.91M447.51 139.95H451.91" stroke="#f0585e" stroke-width="1.0" fill="none"/>
<path d="M454.84 110.33V151.54M452.64 110.33H457.04M452.64 151.54H457.04" stroke="#f0585e" stroke-width="1.0" fill="none"/>
<path d="M459.98 112.12V151.93M457.78 112.12H462.18M457.78 151.93H462.18" stroke="#f0585e" stroke-width="1.0" fill="none"/>
<path d="M465.11 114.54V152.94M462.91 114.54H467.31M462.91 152.94H467.31" stroke="#f0585e" stroke-width="1.0" fill="none"/>
<path d="M470.25 117.64V157.64M468.05 117.64H472.44M468.05 157.64H472.44" stroke="#f0585e" stroke-width="1.0" fill="none"/>
<path d="M475.38 122.10V164.71M473.18 122.10H477.58M473.18 164.71H477.58" stroke="#f0585e" stroke-width="1.0" fill="none"/>
<path d="M480.51 125.40V177.01M478.31 125.40H482.71M478.31 177.01H482.71" stroke="#f0585e" stroke-width="1.0" fill="none"/>
<path d="M485.65 131.17V182.77M483.45 131.17H487.85M483.45 182.77H487.85" stroke="#f0585e" stroke-width="1.0" fill="none"/>
<path d="M490.78 138.42V183.63M488.58 138.42H492.98M488.58 183.63H492.98" stroke="#f0585e" stroke-width="1.0" fill="none"/>
<path d="M495.91 138.33V184.34M493.71 138.33H498.11M493.71 184.34H498.11" stroke="#f0585e" stroke-width="1.0" fill="none"/>
<path d="M501.05 143.45V185.46M498.85 143.45H503.25M498.85 185.46H503.25" stroke="#f0585e" stroke-width="1.0" fill="none"/>
<path d="M506.18 150.53V190.54M503.98 150.53H508.38M503.98 190.54H508.38" stroke="#f0585e" stroke-width="1.0" fill="none"/>
<path d="M511.32 162.51V192.91M509.12 162.51H513.52M509.12 192.91H513.52" stroke="#f0585e" stroke-width="1.0" fill="none"/>
<path d="M516.45 164.97V193.30M514.25 164.97H518.65" stroke="#f0585e" stroke-width="1.0" fill="none"/>
<path d="M521.59 179.33V192.93M519.38 179.33H523.79M519.38 192.93H523.79" stroke="#f0585e" stroke-width="1.0" fill="none"/>
<path d="M526.72 180.51V193.30M524.52 180.51H528.92" stroke="#f0585e" stroke-width="1.0" fill="none"/>
<path d="M531.85 180.51V193.30M529.65 180.51H534.05" stroke="#f0585e" stroke-width="1.0" fill="none"/>
<path d="M536.99 180.51V193.30M534.79 180.51H539.19" stroke="#f0585e" stroke-width="1.0" fill="none"/>
<path d="M542.12 180.51V193.30M539.92 180.51H544.32" stroke="#f0585e" stroke-width="1.0" fill="none"/>
<path d="M547.25 180.51V193.30M545.05 180.51H549.46" stroke="#f0585e" stroke-width="1.0" fill="none"/>
<path d="M380.40 37.38 L381.68 42.37 L382.97 45.96 L384.25 48.30 L385.53 50.32 L386.82 51.73 L388.10 52.97 L390.67 54.85 L393.23 56.09 L395.80 57.18 L398.37 58.28 L400.94 59.21 L403.50 60.46 L408.64 67.32 L413.77 72.00 L418.90 76.05 L424.04 81.35 L429.17 87.28 L434.31 93.20 L439.44 100.06 L444.57 109.10 L449.71 123.45 L454.84 130.93 L459.98 132.02 L465.11 133.74 L470.25 137.64 L475.38 143.41 L480.51 151.20 L485.65 156.97 L490.78 161.03 L495.91 161.34 L501.05 164.46 L506.18 170.54 L511.32 177.71 L516.45 179.27 L521.59 186.13 L526.72 186.91 L531.85 186.91 L536.99 186.91 L542.12 186.91 L547.25 186.91 L552.39 193.30" stroke="#ec2229" stroke-width="2.9" fill="none" stroke-linejoin="round"/>
<path d="M377.00 37.38L380.40 33.48L383.80 37.38L380.40 41.28Z" fill="#ec2229"/>
<path d="M378.28 42.37L381.68 38.47L385.08 42.37L381.68 46.27Z" fill="#ec2229"/>
<path d="M379.57 45.96L382.97 42.06L386.37 45.96L382.97 49.86Z" fill="#ec2229"/>
<path d="M380.85 48.30L384.25 44.40L387.65 48.30L384.25 52.20Z" fill="#ec2229"/>
<path d="M382.13 50.32L385.53 46.42L388.93 50.32L385.53 54.22Z" fill="#ec2229"/>
<path d="M383.42 51.73L386.82 47.83L390.22 51.73L386.82 55.63Z" fill="#ec2229"/>
<path d="M384.70 52.97L388.10 49.07L391.50 52.97L388.10 56.87Z" fill="#ec2229"/>
<path d="M387.27 54.85L390.67 50.95L394.07 54.85L390.67 58.75Z" fill="#ec2229"/>
<path d="M389.83 56.09L393.23 52.19L396.63 56.09L393.23 59.99Z" fill="#ec2229"/>
<path d="M392.40 57.18L395.80 53.28L399.20 57.18L395.80 61.08Z" fill="#ec2229"/>
<path d="M394.97 58.28L398.37 54.38L401.77 58.28L398.37 62.18Z" fill="#ec2229"/>
<path d="M397.54 59.21L400.94 55.31L404.34 59.21L400.94 63.11Z" fill="#ec2229"/>
<path d="M400.10 60.46L403.50 56.56L406.90 60.46L403.50 64.36Z" fill="#ec2229"/>
<path d="M405.24 67.32L408.64 63.42L412.04 67.32L408.64 71.22Z" fill="#ec2229"/>
<path d="M410.37 72.00L413.77 68.10L417.17 72.00L413.77 75.90Z" fill="#ec2229"/>
<path d="M415.50 76.05L418.90 72.15L422.30 76.05L418.90 79.95Z" fill="#ec2229"/>
<path d="M420.64 81.35L424.04 77.45L427.44 81.35L424.04 85.25Z" fill="#ec2229"/>
<path d="M425.77 87.28L429.17 83.38L432.57 87.28L429.17 91.18Z" fill="#ec2229"/>
<path d="M430.91 93.20L434.31 89.30L437.71 93.20L434.31 97.10Z" fill="#ec2229"/>
<path d="M436.04 100.06L439.44 96.16L442.84 100.06L439.44 103.96Z" fill="#ec2229"/>
<path d="M441.18 109.10L444.57 105.20L447.97 109.10L444.57 113.00Z" fill="#ec2229"/>
<path d="M446.31 123.45L449.71 119.55L453.11 123.45L449.71 127.35Z" fill="#ec2229"/>
<path d="M451.44 130.93L454.84 127.03L458.24 130.93L454.84 134.83Z" fill="#ec2229"/>
<path d="M456.58 132.02L459.98 128.12L463.38 132.02L459.98 135.92Z" fill="#ec2229"/>
<path d="M461.71 133.74L465.11 129.84L468.51 133.74L465.11 137.64Z" fill="#ec2229"/>
<path d="M466.85 137.64L470.25 133.74L473.64 137.64L470.25 141.54Z" fill="#ec2229"/>
<path d="M471.98 143.41L475.38 139.51L478.78 143.41L475.38 147.31Z" fill="#ec2229"/>
<path d="M477.11 151.20L480.51 147.30L483.91 151.20L480.51 155.10Z" fill="#ec2229"/>
<path d="M482.25 156.97L485.65 153.07L489.05 156.97L485.65 160.87Z" fill="#ec2229"/>
<path d="M487.38 161.03L490.78 157.13L494.18 161.03L490.78 164.93Z" fill="#ec2229"/>
<path d="M492.51 161.34L495.91 157.44L499.31 161.34L495.91 165.24Z" fill="#ec2229"/>
<path d="M497.65 164.46L501.05 160.56L504.45 164.46L501.05 168.36Z" fill="#ec2229"/>
<path d="M502.78 170.54L506.18 166.64L509.58 170.54L506.18 174.44Z" fill="#ec2229"/>
<path d="M507.92 177.71L511.32 173.81L514.72 177.71L511.32 181.61Z" fill="#ec2229"/>
<path d="M513.05 179.27L516.45 175.37L519.85 179.27L516.45 183.17Z" fill="#ec2229"/>
<path d="M518.19 186.13L521.59 182.23L524.99 186.13L521.59 190.03Z" fill="#ec2229"/>
<path d="M523.32 186.91L526.72 183.01L530.12 186.91L526.72 190.81Z" fill="#ec2229"/>
<path d="M528.45 186.91L531.85 183.01L535.25 186.91L531.85 190.81Z" fill="#ec2229"/>
<path d="M533.59 186.91L536.99 183.01L540.39 186.91L536.99 190.81Z" fill="#ec2229"/>
<path d="M538.72 186.91L542.12 183.01L545.52 186.91L542.12 190.81Z" fill="#ec2229"/>
<path d="M543.86 186.91L547.25 183.01L550.65 186.91L547.25 190.81Z" fill="#ec2229"/>
<path d="M548.99 193.30L552.39 189.40L555.79 193.30L552.39 197.20Z" fill="#ec2229"/>
<path d="M491.20 9.40H515.80" stroke="#1e1e1e" stroke-width="2.9"/>
<path d="M500.40 9.40L503.50 5.50L506.60 9.40L503.50 13.30Z" fill="#1e1e1e"/>
<text transform="translate(525.10 15.50) scale(0.988 1)" font-family="'Liberation Serif', serif" font-size="13.56" fill="#111">MgY_O in DMEM+FBS</text>
<path d="M491.20 26.90H515.80" stroke="#848484" stroke-width="2.9"/>
<path d="M500.40 26.90L503.50 23.00L506.60 26.90L503.50 30.80Z" fill="#848484"/>
<text transform="translate(525.10 32.00) scale(0.988 1)" font-family="'Liberation Serif', serif" font-size="13.56" fill="#111">MgY_O in DMEM</text>
<path d="M491.20 44.30H515.80" stroke="#1f6eb8" stroke-width="2.9"/>
<path d="M500.40 44.30L503.50 40.40L506.60 44.30L503.50 48.20Z" fill="#1f6eb8"/>
<text transform="translate(525.10 48.50) scale(0.988 1)" font-family="'Liberation Serif', serif" font-size="13.56" fill="#111">MgY in DMEM+FBS</text>
<path d="M491.20 61.70H515.80" stroke="#ec2229" stroke-width="2.9"/>
<path d="M500.40 61.70L503.50 57.80L506.60 61.70L503.50 65.60Z" fill="#ec2229"/>
<text transform="translate(525.10 65.00) scale(0.988 1)" font-family="'Liberation Serif', serif" font-size="13.56" fill="#111">MgY in DMEM</text>
</svg></div></body></html>
